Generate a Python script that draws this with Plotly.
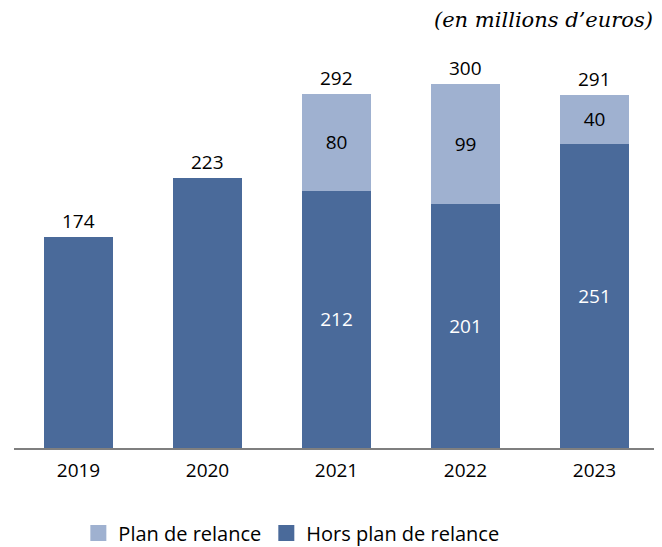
import plotly.graph_objects as go

years = ["2019", "2020", "2021", "2022", "2023"]
hors_plan = [174, 223, 212, 201, 251]
plan_relance = [None, None, 80, 99, 40]
totals = [174, 223, 292, 300, 291]
hors_labels = ["", "", "212", "201", "251"]
plan_labels = ["", "", "80", "99", "40"]

dark = "#4A6A9A"
light = "#9FB1D0"
font_family = "Open Sans, Noto Sans, sans-serif"
fs = 19

fig = go.Figure()
fig.add_trace(go.Bar(
    x=years, y=hors_plan, name="Hors plan de relance",
    marker=dict(color=dark, line=dict(width=0)),
    text=hors_labels, textposition="inside", insidetextanchor="middle",
    textfont=dict(color="white", size=fs, family=font_family),
    hoverinfo="skip", showlegend=False,
))
fig.add_trace(go.Bar(
    x=years, y=plan_relance, name="Plan de relance",
    marker=dict(color=light, line=dict(width=0)),
    text=plan_labels, textposition="inside", insidetextanchor="middle",
    textfont=dict(color="black", size=fs, family=font_family),
    hoverinfo="skip", showlegend=False,
))
# legend entries with large square swatches
fig.add_trace(go.Scatter(
    x=[None], y=[None], mode="markers", name="Plan de relance",
    marker=dict(symbol="square", size=24, color=light),
))
fig.add_trace(go.Scatter(
    x=[None], y=[None], mode="markers", name="Hors plan de relance",
    marker=dict(symbol="square", size=24, color=dark),
))

# total labels above each bar (x given as category index)
for i, tot in enumerate(totals):
    fig.add_annotation(
        x=i, y=tot, text=str(tot), showarrow=False, yanchor="middle", yshift=16,
        font=dict(color="black", size=fs, family=font_family),
    )

fig.add_annotation(
    text="<i>(en millions d\u2019euros)</i>", xref="paper", yref="paper",
    x=0.994, xanchor="right", y=1 + 40 / 388, yanchor="middle", showarrow=False,
    font=dict(family="DejaVu Serif, Liberation Serif, serif", size=21, color="black"),
)

fig.update_layout(
    width=654, height=539,
    margin=dict(l=6, r=3, t=52, b=99, autoexpand=False),
    barmode="stack", bargap=0.46,
    paper_bgcolor="white", plot_bgcolor="white",
    uniformtext=dict(mode=False),
    xaxis=dict(type="category", categoryorder="array", categoryarray=years,
               range=[-0.5, len(years) - 0.5],
               showline=True, linecolor="#7f7f7f", linewidth=1.5,
               ticks="outside", ticklen=4, tickcolor="rgba(0,0,0,0)", automargin=False,
               tickfont=dict(size=fs, family=font_family, color="black"), showgrid=False),
    yaxis=dict(range=[0, 320], visible=False, showgrid=False, zeroline=False, automargin=False),
    legend=dict(orientation="h", x=0.43, xanchor="center", y=-0.219, yanchor="middle",
                traceorder="normal", itemsizing="trace", itemwidth=30,
                font=dict(size=20, family=font_family, color="black")),
    showlegend=True,
)

fig.write_html("out.html")
